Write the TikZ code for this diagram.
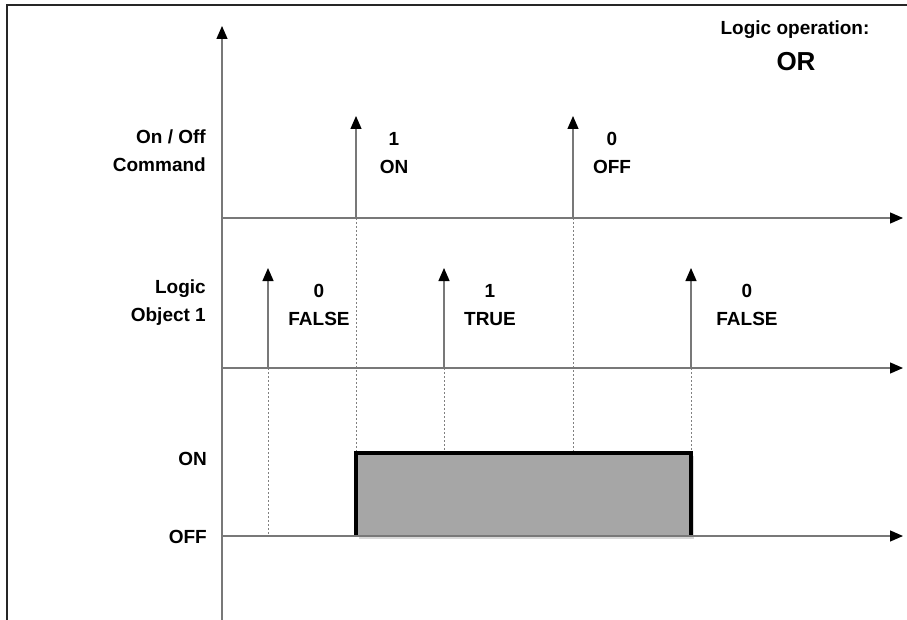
\documentclass[tikz,border=0pt]{standalone}
\usepackage{fontspec}
\setmainfont{Liberation Sans}
\usetikzlibrary{shapes, arrows, arrows.meta, calc, positioning, shadows}

\definecolor{axisgray}{RGB}{120,120,120}
\definecolor{boxgray}{RGB}{166,166,166}

\begin{document}
\begin{tikzpicture}[x=1pt, y=-1pt]
    \tikzstyle{axis} = [draw=axisgray, line width=1.3pt, -{Triangle[length=13pt,width=11pt,fill=black,color=black]}]
    \tikzstyle{guide} = [draw=gray, line width=0.8pt, dash pattern=on 2pt off 2pt]
    \tikzstyle{lbl} = [font=\bfseries\fontsize{19}{28}\selectfont, inner sep=0pt]
    \tikzstyle{side} = [lbl, align=right, anchor=east]
    \tikzstyle{val} = [lbl, align=center]

	\useasboundingbox (0,0) rectangle (907,620);
	\fill[white] (0,0) rectangle (907,620);
	\draw[black!85, line width=2pt] (7,622) -- (7,5) -- (909,5);

	% axes
	\coordinate (O) at (222,620);
	\coordinate (Otop) at (222,26);
	\coordinate (cmdL) at (222,218);
	\coordinate (cmdR) at (903,218);
	\coordinate (objL) at (222,368);
	\coordinate (objR) at (903,368);
	\coordinate (outL) at (222,536);
	\coordinate (outR) at (903,536);

	% pulses on the command line
	\coordinate (onB) at (356,218);
	\coordinate (onT) at (356,116);
	\coordinate (offB) at (573,218);
	\coordinate (offT) at (573,116);

	% pulses on the logic object line
	\coordinate (f1B) at (268,368);
	\coordinate (f1T) at (268,268);
	\coordinate (tB) at (444,368);
	\coordinate (tT) at (444,268);
	\coordinate (f2B) at (691,368);
	\coordinate (f2T) at (691,268);

	% output box
	\coordinate (boxBL) at (356,536);
	\coordinate (boxTL) at (356,453);
	\coordinate (boxTR) at (691,453);
	\coordinate (boxBR) at (691,536);

	\path
		(onB) edge[guide] (boxTL)
		(offB) edge[guide] (offB |- boxTL)
		(f1B) edge[guide] (f1B |- outL)
		(tB) edge[guide] (tB |- boxTL)
		(f2B) edge[guide] (boxTR)
	;

	\fill[boxgray, drop shadow={shadow xshift=3pt, shadow yshift=-3pt, opacity=0.3}]
		(boxBL) rectangle (boxTR);
	\draw[black, line width=3.4pt, line join=miter]
		(boxBL) -- (boxTL) -- (boxTR) -- (boxBR);

	\path
		(O) edge[axis] (Otop)
		(cmdL) edge[axis] (cmdR)
		(objL) edge[axis] (objR)
		(outL) edge[axis] (outR)
		(onB) edge[axis] (onT)
		(offB) edge[axis] (offT)
		(f1B) edge[axis] (f1T)
		(tB) edge[axis] (tT)
		(f2B) edge[axis] (f2T)
	;

	% labels
	\node[side] (cmd) at (206,151) {On / Off\\Command};
	\node[side] (obj) at (206,303) {Logic\\Object 1};
	\node[side] (stOn) at (207,459) {ON};
	\node[side] (stOff) at (207,537) {OFF};

	\node[val] (onLbl) at (394,153) {1\\ON};
	\node[val] (offLbl) at (612,153) {0\\OFF};
	\node[val] (f1Lbl) at (319,305) {0\\FALSE};
	\node[val] (tLbl) at (490,305) {1\\TRUE};
	\node[val] (f2Lbl) at (747,305) {0\\FALSE};

	\node[val] (oper) at (795,30) {Logic operation:};
	\node[lbl, font=\bfseries\fontsize{26}{28}\selectfont] (orLbl) at (796,62) {OR};
\end{tikzpicture}
\end{document}
